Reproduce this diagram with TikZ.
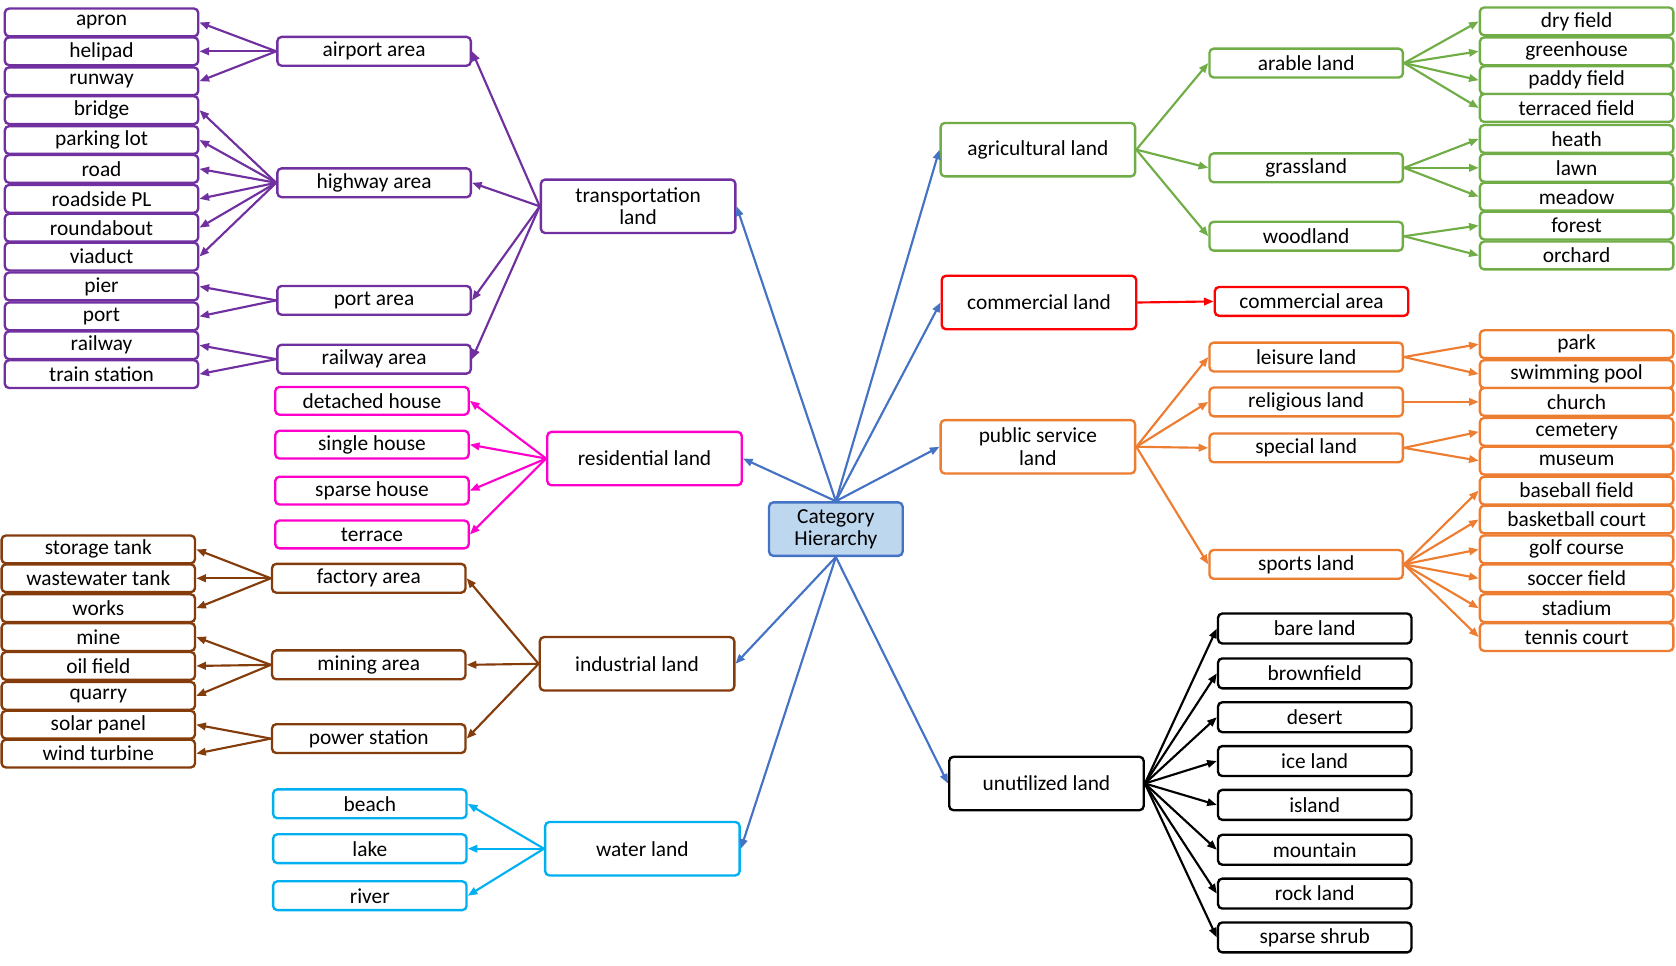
\documentclass[tikz,border=0pt]{standalone}
\usepackage{fontspec}
\setmainfont{Carlito}
\usetikzlibrary{arrows.meta}
\definecolor{colP}{HTML}{7030A0}
\definecolor{colM}{HTML}{FF00CC}
\definecolor{colB}{HTML}{843C0C}
\definecolor{colC}{HTML}{00B0F0}
\definecolor{colG}{HTML}{70AD47}
\definecolor{colO}{HTML}{ED7D31}
\definecolor{colBl}{HTML}{4472C4}
\definecolor{colFill}{HTML}{BDD7EE}
\begin{document}
\begin{tikzpicture}[x=1pt,y=-1pt,
 bx/.style={draw,rounded corners=4pt,line width=2.2pt,inner sep=0pt,minimum height=26pt,font=\fontsize{20}{21}\selectfont,align=center,fill=white},
 lf/.style={bx,minimum width=181pt},
 big/.style={bx,minimum width=182pt,minimum height=50pt},
 ar/.style={line width=2pt,-{Triangle[length=9pt,width=7pt]}}]
\useasboundingbox (0,0) rectangle (1568,903);
% center
\node[bx,minimum width=125pt,minimum height=50pt,fill=colFill,draw=colBl] (C) at (782,495) {Category\\Hierarchy};
% big categories
\node[big,draw=colP] (T) at (597,193) {transportation\\land};
\node[big,draw=colM] (R) at (603,429) {residential land};
\node[big,draw=colB] (I) at (596,621) {industrial land};
\node[big,draw=colC] (W) at (601,794) {water land};
\node[big,draw=colG] (A) at (971,140) {agricultural land};
\node[big,draw=red] (M) at (972,283) {commercial land};
\node[big,draw=colO] (P) at (971,418) {public service\\land};
\node[big,draw=black] (U) at (979,733) {unutilized land};
\foreach \n in {T,R} \draw[ar,colBl] (C.north) -- (\n.east);
\foreach \n in {A,M,P} \draw[ar,colBl] (C.north) -- (\n.west);
\foreach \n in {I,W} \draw[ar,colBl] (C.south) -- (\n.east);
\draw[ar,colBl] (C.south) -- (U.west);
% mid purple
\foreach \n/\y/\t in {ap/48/airport area,hw/171/highway area,po/281/port area,ra/336/railway area}{
 \node[lf,minimum height=27pt,draw=colP] (\n) at (350,\y) {\t};
 \draw[ar,colP] (T.west) -- (\n.east);}
\foreach \n/\y/\t/\p in {l1/21/apron/ap,l2/48/helipad/ap,l3/76/runway/ap,l4/103/bridge/hw,l5/131/parking lot/hw,l6/158/road/hw,l7/186/roadside PL/hw,l8/213/roundabout/hw,l9/240/viaduct/hw,l10/268/pier/po,l11/296/port/po,l12/323/railway/ra,l13/350/train station/ra}{
 \node[lf,draw=colP] (\n) at (95,\y) {\t};
 \draw[ar,colP] (\p.west) -- (\n.east);}
% magenta
\foreach \n/\y/\t in {r1/375/detached house,r2/416/single house,r3/459/sparse house,r4/500/terrace}{
 \node[lf,draw=colM] (\n) at (348,\y) {\t};
 \draw[ar,colM] (R.west) -- (\n.east);}
% brown
\foreach \n/\y/\t in {fa/541/factory area,ma/622/mining area,ps/691/power station}{
 \node[lf,minimum height=27pt,draw=colB] (\n) at (345,\y) {\t};
 \draw[ar,colB] (I.west) -- (\n.east);}
\foreach \n/\y/\t/\p in {b1/514/storage tank/fa,b2/541/wastewater tank/fa,b3/569/works/fa,b4/596/mine/ma,b5/623/oil field/ma,b6/651/quarry/ma,b7/678/solar panel/ps,b8/705/wind turbine/ps}{
 \node[lf,draw=colB] (\n) at (92,\y) {\t};
 \draw[ar,colB] (\p.west) -- (\n.east);}
% cyan
\foreach \n/\y/\t in {w1/752/beach,w2/794/lake,w3/838/river}{
 \node[lf,minimum height=27pt,draw=colC] (\n) at (346,\y) {\t};
 \draw[ar,colC] (W.west) -- (\n.east);}
% green
\foreach \n/\y/\t in {g1/59/arable land,g2/157/grassland,g3/221/woodland}{
 \node[lf,minimum height=27pt,draw=colG] (\n) at (1222,\y) {\t};
 \draw[ar,colG] (A.east) -- (\n.west);}
\foreach \n/\y/\t/\p in {h1/20/dry field/g1,h2/48/greenhouse/g1,h3/75/paddy field/g1,h4/101/terraced field/g1,h5/130/heath/g2,h6/157/lawn/g2,h7/184/meadow/g2,h8/211/forest/g3,h9/239/orchard/g3}{
 \node[lf,draw=colG] (\n) at (1475,\y) {\t};
 \draw[ar,colG] (\p.east) -- (\n.west);}
% red
\node[lf,minimum height=27pt,draw=red] (ca) at (1227,282) {commercial area};
\draw[ar,red] (M.east) -- (ca.west);
% orange
\foreach \n/\y/\t in {o1/334/leisure land,o2/376/religious land,o3/419/special land,o4/528/sports land}{
 \node[lf,minimum height=27pt,draw=colO] (\n) at (1222,\y) {\t};
 \draw[ar,colO] (P.east) -- (\n.west);}
\foreach \n/\y/\t/\p in {q1/322/park/o1,q2/350/swimming pool/o1,q3/376/church/o2,q4/404/cemetery/o3,q5/431/museum/o3,q6/459/baseball field/o4,q7/486/basketball court/o4,q8/514/golf course/o4,q9/541/soccer field/o4,q10/569/stadium/o4,q11/596/tennis court/o4}{
 \node[lf,draw=colO] (\n) at (1475,\y) {\t};
 \draw[ar,colO] (\p.east) -- (\n.west);}
% black
\foreach \n/\y/\t in {k1/588/bare land,k2/630/brownfield,k3/671/desert,k4/712/ice land,k5/753/island,k6/795/mountain,k7/836/rock land,k8/877/sparse shrub}{
 \node[lf,minimum height=28pt,draw=black] (\n) at (1230,\y) {\t};
 \draw[ar,black] (U.east) -- (\n.west);}
\end{tikzpicture}
\end{document}
